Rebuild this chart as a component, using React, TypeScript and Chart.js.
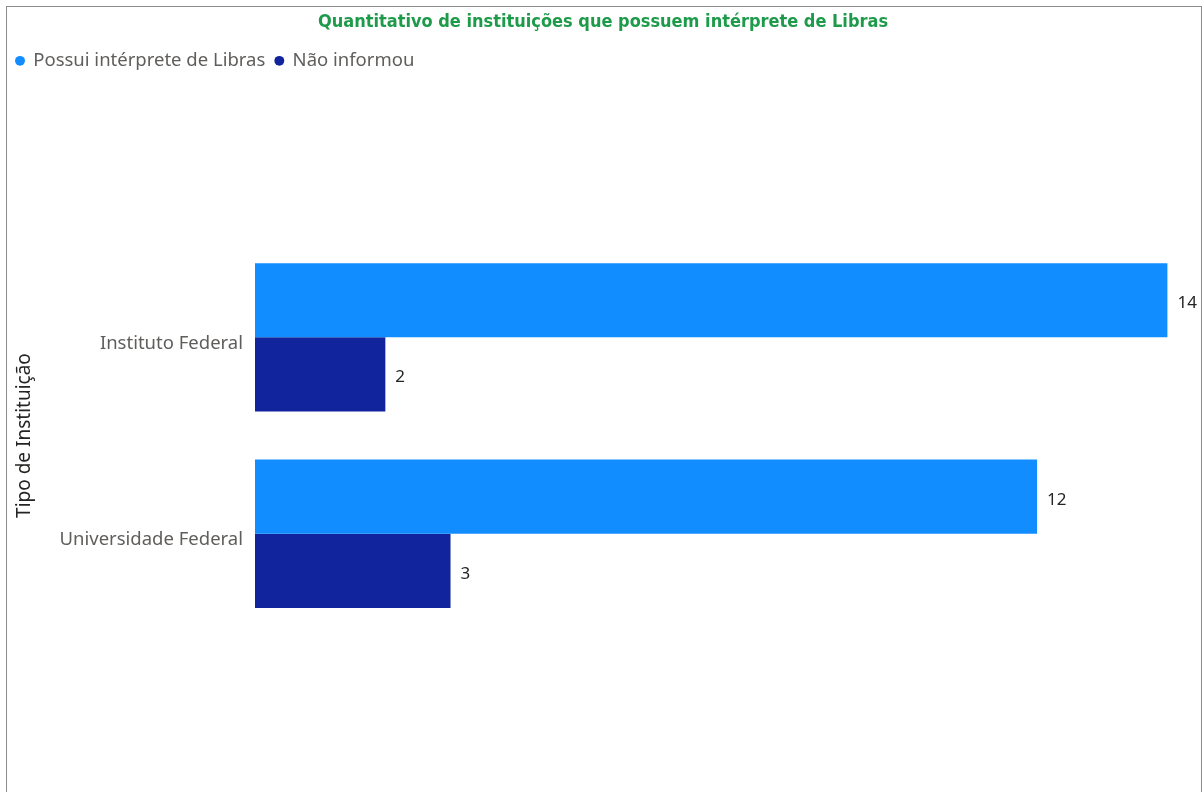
import React, { useEffect, useRef } from "react";
import { Chart, registerables } from "chart.js";

Chart.register(...registerables);

const categories = ["Instituto Federal", "Universidade Federal"];
const seriesNames = ["Possui intérprete de Libras", "Não informou"];
const possuiValues = [14, 12];
const naoInformouValues = [2, 3];
const seriesColors = ["#118DFF", "#12239E"];

const chartTitle = "Quantitativo de instituições que possuem intérprete de Libras";
const yAxisTitle = "Tipo de Instituição";

const UI_FONT = "'Noto Sans', 'Open Sans', sans-serif";

const valueLabels = {
  id: "valueLabels",
  afterDatasetsDraw(chart: any) {
    const ctx = chart.ctx;
    ctx.save();
    ctx.font = `17px ${UI_FONT}`;
    ctx.fillStyle = "#252423";
    ctx.textAlign = "left";
    ctx.textBaseline = "middle";
    chart.data.datasets.forEach((ds: any, i: number) => {
      const meta = chart.getDatasetMeta(i);
      meta.data.forEach((bar: any, j: number) => {
        ctx.fillText(String(ds.data[j]), bar.x + 10, bar.y + 3);
      });
    });
    ctx.restore();
  },
};

export default function App() {
  const ref = useRef<HTMLCanvasElement | null>(null);
  useEffect(() => {
    if (!ref.current) return;
    const chart = new Chart(ref.current, {
      type: "bar",
      data: {
        labels: categories,
        datasets: [
          {
            label: seriesNames[0],
            data: possuiValues,
            backgroundColor: seriesColors[0],
            barPercentage: 1,
            categoryPercentage: 0.755,
          },
          {
            label: seriesNames[1],
            data: naoInformouValues,
            backgroundColor: seriesColors[1],
            barPercentage: 1,
            categoryPercentage: 0.755,
          },
        ],
      },
      options: {
        indexAxis: "y",
        animation: false,
        responsive: false,
        layout: { padding: { left: 6, right: 3, top: 0, bottom: 160 } },
        plugins: {
          title: {
            display: true,
            text: chartTitle,
            color: "#1E9B4A",
            font: { family: "'DejaVu Sans Condensed', 'DejaVu Sans', sans-serif", size: 18, weight: "bold", lineHeight: 1.2 },
            padding: { top: 12, bottom: 8 },
          },
          subtitle: {
            display: true,
            text: "",
            weight: 500,
            font: { size: 1, lineHeight: 1 },
            padding: { top: 158, bottom: 0 },
          } as any,
          legend: {
            display: true,
            position: "top",
            align: "start",
            labels: {
              usePointStyle: true,
              pointStyle: "circle",
              boxWidth: 8,
              boxHeight: 7,
              padding: 10,
              color: "#605E5C",
              font: { family: UI_FONT, size: 18.5 },
            },
          },
          tooltip: { enabled: false },
        },
        scales: {
          x: { display: false, min: 0, max: 14.5 },
          y: {
            grid: { display: false, drawTicks: false },
            border: { display: false },
            ticks: { color: "#605E5C", padding: 12, labelOffset: 6, font: { family: UI_FONT, size: 18.5 } },
            title: {
              display: true,
              text: yAxisTitle,
              color: "#252423",
              font: { family: UI_FONT, size: 19, lineHeight: 1.2 },
              padding: { top: 7, bottom: 0 },
            },
            afterFit(scale: any) {
              scale.width = 249;
            },
          },
        },
      },
      plugins: [valueLabels],
    });
    return () => chart.destroy();
  }, []);

  return (
    <div style={{ position: "fixed", left: 0, top: 0, width: 1203, height: 792, background: "#fff", overflow: "hidden" }}>
      <div
        style={{
          position: "absolute",
          left: 6,
          top: 6,
          width: 1196,
          height: 820,
          boxSizing: "border-box",
          border: "1px solid #8c8c8c",
        }}
      />
      <canvas ref={ref} width={1203} height={792} style={{ position: "absolute", left: 0, top: 0 }} />
    </div>
  );
}
